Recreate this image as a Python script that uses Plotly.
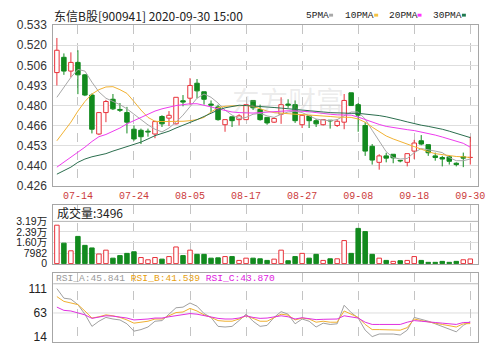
import plotly.graph_objects as go

# ---------------- data ----------------
dates = ["07-09", "07-10", "07-13", "07-14", "07-15", "07-16", "07-17", "07-20", "07-21", "07-22",
         "07-23", "07-24", "07-27", "07-28", "07-29", "07-30", "07-31", "08-03", "08-04", "08-05",
         "08-06", "08-07", "08-10", "08-11", "08-12", "08-13", "08-14", "08-17", "08-18", "08-19",
         "08-20", "08-21", "08-24", "08-25", "08-26", "08-27", "08-28", "08-31", "09-01", "09-02",
         "09-03", "09-04", "09-07", "09-08", "09-09", "09-10", "09-11", "09-14", "09-15", "09-16",
         "09-17", "09-18", "09-21", "09-22", "09-23", "09-24", "09-25", "09-28", "09-29", "09-30"]

opens = [0.5014, 0.5116, 0.5024, 0.5082, 0.4999, 0.4864, 0.4604, 0.4747, 0.4836, 0.4768,
         0.4747, 0.4636, 0.4629, 0.4623, 0.4604, 0.4721, 0.4710, 0.4672, 0.4826, 0.4843,
         0.4943, 0.4886, 0.4804, 0.4785, 0.4666, 0.4719, 0.4700, 0.4700, 0.4828, 0.4768,
         0.4715, 0.4683, 0.4736, 0.4804, 0.4800, 0.4666, 0.4725, 0.4693, 0.4666, 0.4696,
         0.4661, 0.4683, 0.4879, 0.4800, 0.4661, 0.4522, 0.4415, 0.4458, 0.4469, 0.4428,
         0.4415, 0.4490, 0.4559, 0.4533, 0.4458, 0.4447, 0.4452, 0.4409, 0.4452, 0.4447]
highs = [0.5245, 0.5142, 0.5149, 0.5163, 0.5003, 0.4875, 0.4751, 0.4832, 0.4871, 0.4811,
         0.4785, 0.4661, 0.4640, 0.4640, 0.4693, 0.4729, 0.4757, 0.4849, 0.4864, 0.4977,
         0.4971, 0.4886, 0.4828, 0.4800, 0.4700, 0.4719, 0.4736, 0.4800, 0.4828, 0.4800,
         0.4715, 0.4715, 0.4849, 0.4836, 0.4828, 0.4736, 0.4725, 0.4704, 0.4700, 0.4696,
         0.4704, 0.4871, 0.4879, 0.4811, 0.4683, 0.4537, 0.4469, 0.4479, 0.4469, 0.4430,
         0.4473, 0.4565, 0.4597, 0.4533, 0.4480, 0.4458, 0.4458, 0.4415, 0.4480, 0.4586]
lows = [0.4928, 0.4999, 0.4982, 0.4870, 0.4857, 0.4608, 0.4597, 0.4683, 0.4764, 0.4751,
        0.4608, 0.4559, 0.4537, 0.4586, 0.4576, 0.4651, 0.4657, 0.4668, 0.4789, 0.4800,
        0.4843, 0.4800, 0.4751, 0.4693, 0.4619, 0.4651, 0.4661, 0.4700, 0.4764, 0.4693,
        0.4666, 0.4678, 0.4672, 0.4779, 0.4678, 0.4644, 0.4644, 0.4651, 0.4661, 0.4640,
        0.4651, 0.4636, 0.4794, 0.4619, 0.4458, 0.4400, 0.4366, 0.4415, 0.4409, 0.4415,
        0.4388, 0.4437, 0.4529, 0.4458, 0.4426, 0.4388, 0.4400, 0.4388, 0.4383, 0.4400]
closes = [0.5163, 0.5024, 0.5082, 0.4999, 0.4864, 0.4636, 0.4747, 0.4821, 0.4772, 0.4762,
          0.4683, 0.4571, 0.4586, 0.4617, 0.4687, 0.4672, 0.4729, 0.4849, 0.4817, 0.4928,
          0.4892, 0.4836, 0.4796, 0.4700, 0.4700, 0.4693, 0.4725, 0.4800, 0.4779, 0.4700,
          0.4678, 0.4708, 0.4800, 0.4796, 0.4693, 0.4729, 0.4693, 0.4672, 0.4700, 0.4691,
          0.4689, 0.4828, 0.4794, 0.4730, 0.4490, 0.4430, 0.4458, 0.4443, 0.4445, 0.4424,
          0.4473, 0.4544, 0.4537, 0.4479, 0.4447, 0.4437, 0.4422, 0.4400, 0.4443, 0.4448]

ma5 = [0.4849, 0.4918, 0.4982, 0.5035, 0.5024, 0.4950, 0.4885, 0.4843, 0.4821, 0.4800,
       0.4772, 0.4736, 0.4700, 0.4665, 0.4636, 0.4618, 0.4644, 0.4683, 0.4730, 0.4789,
       0.4843, 0.4871, 0.4849, 0.4811, 0.4764, 0.4730, 0.4708, 0.4715, 0.4736, 0.4742,
       0.4725, 0.4715, 0.4736, 0.4751, 0.4757, 0.4747, 0.4725, 0.4704, 0.4697, 0.4693,
       0.4700, 0.4725, 0.4751, 0.4751, 0.4704, 0.4629, 0.4554, 0.4486, 0.4447, 0.4437,
       0.4441, 0.4480, 0.4507, 0.4501, 0.4490, 0.4480, 0.4447, 0.4426, 0.4426, 0.4437]
ma10 = [0.4559, 0.4618, 0.4683, 0.4757, 0.4821, 0.4871, 0.4900, 0.4918, 0.4920, 0.4900,
        0.4875, 0.4821, 0.4764, 0.4715, 0.4689, 0.4687, 0.4687, 0.4687, 0.4689, 0.4693,
        0.4700, 0.4715, 0.4751, 0.4779, 0.4789, 0.4792, 0.4794, 0.4794, 0.4789, 0.4772,
        0.4757, 0.4747, 0.4742, 0.4738, 0.4736, 0.4734, 0.4732, 0.4730, 0.4725, 0.4721,
        0.4717, 0.4715, 0.4715, 0.4704, 0.4683, 0.4650, 0.4618, 0.4591, 0.4571, 0.4554,
        0.4537, 0.4520, 0.4501, 0.4486, 0.4473, 0.4465, 0.4458, 0.4454, 0.4452, 0.4447]
ma20 = [0.4383, 0.4415, 0.4447, 0.4480, 0.4516, 0.4554, 0.4586, 0.4601, 0.4623, 0.4644,
        0.4672, 0.4693, 0.4712, 0.4734, 0.4757, 0.4772, 0.4785, 0.4794, 0.4800, 0.4806,
        0.4806, 0.4798, 0.4785, 0.4772, 0.4762, 0.4751, 0.4747, 0.4744, 0.4744, 0.4747,
        0.4751, 0.4755, 0.4757, 0.4759, 0.4759, 0.4757, 0.4753, 0.4747, 0.4740, 0.4736,
        0.4732, 0.4730, 0.4730, 0.4717, 0.4700, 0.4683, 0.4668, 0.4655, 0.4646, 0.4640,
        0.4633, 0.4627, 0.4618, 0.4608, 0.4597, 0.4584, 0.4571, 0.4559, 0.4542, 0.4516]
ma30 = [0.4336, 0.4358, 0.4383, 0.4415, 0.4437, 0.4452, 0.4460, 0.4473, 0.4490, 0.4505,
        0.4518, 0.4531, 0.4550, 0.4571, 0.4593, 0.4608, 0.4623, 0.4644, 0.4661, 0.4683,
        0.4700, 0.4721, 0.4742, 0.4764, 0.4779, 0.4789, 0.4796, 0.4794, 0.4792, 0.4789,
        0.4785, 0.4781, 0.4777, 0.4772, 0.4768, 0.4764, 0.4759, 0.4755, 0.4751, 0.4747,
        0.4744, 0.4744, 0.4742, 0.4742, 0.4738, 0.4734, 0.4727, 0.4719, 0.4710, 0.4697,
        0.4685, 0.4672, 0.4663, 0.4655, 0.4646, 0.4636, 0.4623, 0.4610, 0.4595, 0.4580]

volumes = [29030, 15480, 9676, 20560, 13790, 11850, 7257, 10160, 4112, 6048,
           7741, 8950, 4596, 2903, 4596, 3387, 5322, 12580, 6048, 10160,
           7015, 7015, 4112, 4354, 5322, 5322, 2419, 4112, 4112, 3629,
           2419, 3387, 10160, 2177, 5322, 7741, 4112, 7015, 2419, 3629,
           3629, 17420, 7741, 26610, 24190, 7015, 4112, 2419, 1693, 2177,
           2419, 5322, 2419, 968, 968, 1693, 968, 1693, 2903, 3496]
vol_up = [1, 0, 1, 0, 0, 0, 1, 1, 0, 0,
          0, 0, 1, 1, 1, 0, 1, 1, 0, 1,
          0, 0, 0, 0, 1, 0, 1, 1, 0, 0,
          0, 1, 1, 0, 0, 1, 0, 0, 1, 0,
          1, 1, 0, 0, 0, 0, 1, 0, 1, 0,
          1, 1, 0, 0, 0, 0, 0, 0, 1, 1]

rsi_a = [112.3, 92.9, 90.9, 79.9, 60.5, 35.9, 46.3, 54.0, 50.8, 48.9,
         41.1, 26.2, 29.4, 34.6, 46.3, 47.6, 60.5, 73.5, 74.8, 83.2,
         76.7, 61.8, 54.0, 35.9, 34.6, 35.9, 47.6, 60.5, 46.3, 35.9,
         37.9, 54.0, 65.7, 60.5, 41.1, 50.8, 46.3, 34.6, 42.4, 39.8,
         41.1, 78.6, 63.8, 52.7, 28.2, 15.2, 20.4, 20.4, 20.4, 18.4,
         28.2, 54.0, 50.8, 46.3, 41.1, 35.9, 31.4, 24.9, 37.9, 45.8]
rsi_b = [96.1, 86.4, 83.2, 79.9, 67.0, 52.7, 55.3, 59.2, 57.3, 54.0,
         48.9, 42.4, 44.3, 46.3, 50.8, 50.8, 57.3, 63.8, 65.0, 72.2,
         67.0, 59.2, 54.0, 47.6, 46.3, 46.3, 50.8, 57.3, 52.1, 46.3,
         46.3, 54.0, 60.5, 58.6, 48.9, 52.7, 50.8, 44.3, 46.3, 44.3,
         44.3, 67.0, 60.5, 54.0, 39.8, 29.4, 29.4, 29.4, 29.4, 28.2,
         33.3, 50.8, 47.6, 44.3, 42.4, 39.8, 37.9, 34.6, 41.1, 41.5]
rsi_c = [74.8, 68.3, 67.0, 63.8, 59.2, 52.1, 54.0, 57.3, 56.6, 55.3,
         52.7, 48.9, 49.5, 50.8, 52.7, 52.7, 55.3, 57.3, 59.2, 61.8,
         60.5, 57.3, 55.3, 52.1, 50.8, 50.8, 52.7, 57.3, 54.0, 52.1,
         52.7, 55.3, 57.3, 55.3, 50.8, 53.4, 52.1, 49.5, 50.2, 50.2,
         50.8, 57.3, 55.3, 52.7, 44.3, 39.8, 39.8, 39.8, 39.8, 39.8,
         44.3, 47.6, 46.3, 44.3, 43.7, 42.4, 41.1, 39.8, 43.7, 43.9]

tick_labels = ["07-14", "07-24", "08-05", "08-17", "08-27", "09-08", "09-18", "09-30"]
price_tick_text = ["0.426", "0.440", "0.453", "0.466", "0.480", "0.493", "0.506", "0.520", "0.533"]
vol_ticks = [0, 7982, 15964, 23946, 31928]
vol_tick_text = ["0", "7982", "1.60万", "2.39万", "3.19万"]
rsi_ticks = [14, 63, 111]
rsi_tick_text = ["14", "63", "111"]

title_text = "东信B股[900941] 2020-09-30 15:00"
last_volume = "3496"
rsi_last = ["45.841", "41.539", "43.870"]

# ---------------- styling ----------------
W, H = 499, 350
RED = "#e8323a"
GREEN = "#128a1e"
C5, C10, C20, C30 = "#a8a8a8", "#f2b233", "#ee3bee", "#2b6e4e"
BORDER = "#a6a6a6"
HGRID = "#dedede"
VGRID = "#c4c4c4"
SANS = "Liberation Sans, Noto Sans CJK SC, sans-serif"
MONO = "Liberation Mono, monospace"
CJK = "Noto Sans CJK SC, sans-serif"


def px(x):
    return x / W


def py(y):
    return 1 - y / H


idx = list(range(len(dates)))
up = [c >= o for o, c in zip(opens, closes)]

fig = go.Figure()

# wicks (drawn around the body so hollow candles stay hollow)
for flag, col in ((True, RED), (False, GREEN)):
    wx, wy = [], []
    for i in idx:
        if up[i] != flag:
            continue
        top = max(opens[i], closes[i])
        bot = min(opens[i], closes[i])
        wx += [i, i, None, i, i, None]
        wy += [highs[i], top, None, bot, lows[i], None]
    fig.add_trace(go.Scatter(x=wx, y=wy, mode="lines", line=dict(color=col, width=1),
                             xaxis="x", yaxis="y", showlegend=False, hoverinfo="skip"))

# bodies
fig.add_trace(go.Bar(
    x=idx,
    y=[max(abs(c - o), 0.00012) for o, c in zip(opens, closes)],
    base=[min(o, c) for o, c in zip(opens, closes)],
    width=0.64,
    marker=dict(color=["white" if u else GREEN for u in up],
                line=dict(color=[RED if u else GREEN for u in up], width=1)),
    xaxis="x", yaxis="y", showlegend=False, hoverinfo="skip"))

# moving averages
for vals, col in ((ma5, C5), (ma10, C10), (ma20, C20), (ma30, C30)):
    fig.add_trace(go.Scatter(x=idx, y=vals, mode="lines", line=dict(color=col, width=1),
                             xaxis="x", yaxis="y", showlegend=False, hoverinfo="skip"))

# volume
fig.add_trace(go.Bar(
    x=idx, y=volumes, width=0.64,
    marker=dict(color=["white" if u else GREEN for u in vol_up],
                line=dict(color=[RED if u else GREEN for u in vol_up], width=1)),
    xaxis="x2", yaxis="y2", showlegend=False, hoverinfo="skip"))

# RSI
for vals, col in ((rsi_a, "#a0a0a0"), (rsi_b, "#f0b030"), (rsi_c, "#e030e0")):
    fig.add_trace(go.Scatter(x=idx, y=vals, mode="lines", line=dict(color=col, width=1),
                             xaxis="x3", yaxis="y3", showlegend=False, hoverinfo="skip"))

tickvals = [dates.index(t) for t in tick_labels]
xdom = [px(54), px(485)]
xrange_ = [-0.52, 60.13]

common_x = dict(domain=xdom, range=xrange_, tickmode="array", tickvals=tickvals,
                showgrid=True, gridcolor=VGRID, griddash="dash", gridwidth=1,
                showline=True, mirror=True, linecolor=BORDER, linewidth=1,
                ticks="", zeroline=False, fixedrange=True)

p_lo, p_hi = 0.426, 0.533
price_tickvals = [p_lo + k * (p_hi - p_lo) / (len(price_tick_text) - 1) for k in range(len(price_tick_text))]

vol_top = 44480
rsi_lo, rsi_hi = 4.2, 144.0
rsi_sep = 122.1

fig.update_layout(
    width=W, height=H,
    margin=dict(l=0, r=0, t=0, b=0),
    paper_bgcolor="white", plot_bgcolor="white",
    hovermode=False, showlegend=False, barmode="overlay",
    xaxis=dict(**common_x, anchor="y", ticktext=tick_labels,
               tickfont=dict(family=MONO, size=10, color="#cc3b3b")),
    xaxis2=dict(**common_x, anchor="y2", showticklabels=False, matches="x"),
    xaxis3=dict(**common_x, anchor="y3", showticklabels=False, matches="x"),
    yaxis=dict(domain=[py(186), py(19)], range=[p_lo, p_hi], anchor="x",
               tickmode="array", tickvals=price_tickvals, ticktext=price_tick_text,
               showgrid=True, gridcolor=HGRID, gridwidth=1, zeroline=False,
               showline=True, mirror=True, linecolor=BORDER, ticks="",
               ticklabelstandoff=3,
               tickfont=dict(family=SANS, size=12, color="#333333"), fixedrange=True),
    yaxis2=dict(domain=[py(268), py(206)], range=[-508, vol_top], anchor="x2",
                tickmode="array", tickvals=vol_ticks, ticktext=vol_tick_text,
                showgrid=True, gridcolor=HGRID, gridwidth=1, zeroline=False,
                showline=True, mirror=True, linecolor=BORDER, ticks="",
                ticklabelstandoff=3,
                tickfont=dict(family=SANS, size=10.5, color="#222222"), fixedrange=True),
    yaxis3=dict(domain=[py(349), py(277)], range=[rsi_lo, rsi_hi], anchor="x3",
                tickmode="array", tickvals=rsi_ticks, ticktext=rsi_tick_text,
                showgrid=False, zeroline=False,
                showline=True, mirror=True, linecolor=BORDER, ticks="",
                ticklabelstandoff=3,
                tickfont=dict(family=SANS, size=12, color="#222222"), fixedrange=True),
)

shapes = [
    # header areas without grid
    dict(type="rect", xref="paper", yref="y2", x0=xdom[0] + 0.001, x1=xdom[1] - 0.001,
         y0=33000, y1=vol_top, fillcolor="white", line=dict(width=0), layer="between"),
    dict(type="line", xref="paper", yref="y2", x0=xdom[0], x1=xdom[1],
         y0=vol_ticks[-1], y1=vol_ticks[-1], line=dict(color="#b8b8b8", width=1), layer="above"),
    dict(type="rect", xref="paper", yref="y3", x0=xdom[0] + 0.001, x1=xdom[1] - 0.001,
         y0=rsi_sep + 1, y1=rsi_hi, fillcolor="white", line=dict(width=0), layer="between"),
    dict(type="line", xref="paper", yref="y3", x0=xdom[0], x1=xdom[1],
         y0=rsi_sep, y1=rsi_sep, line=dict(color="#b8b8b8", width=1), layer="above"),
    dict(type="line", xref="paper", yref="y3", x0=xdom[0], x1=xdom[1],
         y0=rsi_ticks[1], y1=rsi_ticks[1], line=dict(color=HGRID, width=1), layer="between"),
]

# legend swatches (text then a short colored bar)
legend_items = [("5PMA", C5, 308), ("10PMA", "#f5c342", 348), ("20PMA", "#ff33ff", 392), ("30PMA", "#1f7a4f", 437)]
annotations = []
for name, col, x0 in legend_items:
    annotations.append(dict(text=name, x=px(x0), y=py(8.5), xref="paper", yref="paper",
                            xanchor="left", yanchor="middle", showarrow=False,
                            font=dict(family=MONO, size=9.5, color="#222222")))
    bx = x0 + 0.6 * 9.5 * len(name) + 3
    shapes.append(dict(type="rect", xref="paper", yref="paper", x0=px(bx), x1=px(bx + 4),
                       y0=py(10), y1=py(7), fillcolor=col, line=dict(width=0)))

annotations += [
    dict(text=title_text, x=px(53), y=py(9), xref="paper", yref="paper",
         xanchor="left", yanchor="middle", showarrow=False,
         font=dict(family=CJK, size=12, color="#222222")),
    dict(text="东方财富", x=px(292), y=py(97), xref="paper", yref="paper",
         xanchor="center", yanchor="middle", showarrow=False,
         font=dict(family=CJK, size=28, color="rgba(170,170,170,0.22)")),
    dict(text="成交量:" + last_volume, x=px(56), y=py(214.5), xref="paper", yref="paper",
         xanchor="left", yanchor="middle", showarrow=False,
         font=dict(family=CJK, size=12, color="#222222")),
    dict(text=("<span style='color:#9a9a9a'>RSI_A:" + rsi_last[0] + "</span> "
               "<span style='color:#e8a010'>RSI_B:" + rsi_last[1] + "</span> "
               "<span style='color:#e020e0'>RSI_C:" + rsi_last[2] + "</span>"),
         x=px(55), y=py(283), xref="paper", yref="paper",
         xanchor="left", yanchor="middle", showarrow=False,
         font=dict(family=MONO, size=9.6, color="#9a9a9a")),
]

fig.update_layout(shapes=shapes, annotations=annotations)

fig.write_html("out.html", config={"displayModeBar": False})
